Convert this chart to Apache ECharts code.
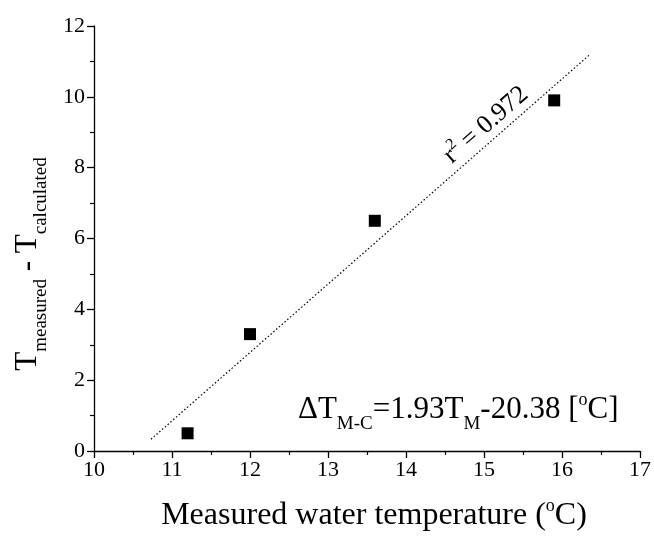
<!DOCTYPE html>
<html>
<head>
<meta charset="utf-8">
<script src="https://cdn.jsdelivr.net/npm/echarts@6/dist/echarts.min.js"></script>
<style>
  html, body { margin: 0; padding: 0; background: #fff; }
  #chart { width: 654px; height: 538px; }
</style>
</head>
<body>
<div id="chart"></div>
<script>
// measured points: water temperature vs (T measured - T calculated)
const waterTemp = [11.2, 12.0, 13.6, 15.9];
const tempDiff = [0.5, 3.3, 6.5, 9.9];
// end points of the fitted line
const fitX = [10.73, 16.35];
const fitY = [0.33, 11.18];

const FONT = 'Liberation Serif';

const myChart = echarts.init(document.getElementById('chart'));

const option = {
    animation: false,
    backgroundColor: '#fff',
    grid: { left: 94, right: 13, top: 26, bottom: 87 },
    xAxis: {
        type: 'value',
        min: 10, max: 17, interval: 1,
        axisLine: { lineStyle: { color: '#000', width: 1.3 } },
        axisTick: { length: 7, lineStyle: { color: '#000', width: 1.3 } },
        minorTick: { show: true, splitNumber: 2, length: 4, lineStyle: { color: '#000', width: 1.2 } },
        splitLine: { show: false },
        axisLabel: { color: '#000', fontFamily: FONT, fontSize: 22, margin: 8 }
    },
    yAxis: {
        type: 'value',
        min: 0, max: 12, interval: 2,
        axisLine: { show: true, lineStyle: { color: '#000', width: 1.3 } },
        axisTick: { show: true, length: 7, lineStyle: { color: '#000', width: 1.3 } },
        minorTick: { show: true, splitNumber: 2, length: 4, lineStyle: { color: '#000', width: 1.2 } },
        splitLine: { show: false },
        axisLabel: { color: '#000', fontFamily: FONT, fontSize: 22, margin: 9 }
    },
    series: [
        {
            name: 'fit',
            type: 'line',
            symbol: 'none',
            silent: true,
            lineStyle: { color: '#000', width: 1.2, type: [1.5, 2.2] },
            data: fitX.map((x, i) => [x, fitY[i]])
        },
        {
            name: 'measured',
            type: 'scatter',
            symbol: 'rect',
            symbolSize: 12,
            itemStyle: { color: '#000', opacity: 1 },
            data: waterTemp.map((x, i) => [x, tempDiff[i]])
        }
    ],
    graphic: [
        // x axis title
        {
            type: 'text',
            x: 374, y: 516,
            style: {
                text: '{t|Measured water temperature (}{sup|o}{t|C)}',
                align: 'center', verticalAlign: 'middle',
                rich: {
                    t: { fontFamily: FONT, fontSize: 32, fill: '#000' },
                    sup: { fontFamily: FONT, fontSize: 18, fill: '#000', padding: [0, 0, 20, 0] }
                }
            }
        },
        // y axis title
        {
            type: 'text',
            x: 28, y: 264,
            rotation: Math.PI / 2,
            style: {
                text: '{t|T}{s|measured}{t| - T}{s|calculated}',
                align: 'center', verticalAlign: 'middle',
                rich: {
                    t: { fontFamily: FONT, fontSize: 31, fill: '#000' },
                    s: { fontFamily: FONT, fontSize: 19, fill: '#000', padding: [26, 0, 0, 0] }
                }
            }
        },
        {
            type: 'text',
            x: 486, y: 125,
            rotation: 41.2 * Math.PI / 180,
            style: {
                text: '{t|r}{sup|2}{t| = 0.972}',
                align: 'center', verticalAlign: 'middle',
                rich: {
                    t: { fontFamily: FONT, fontSize: 26, fill: '#000' },
                    sup: { fontFamily: FONT, fontSize: 16, fill: '#000', padding: [0, 0, 16, 0] }
                }
            }
        },
        {
            type: 'text',
            x: 298, y: 410,
            style: {
                text: '{t|\u0394T}{s|M-C}{t|=1.93T}{s|M}{t|-20.38 [}{sup|o}{t|C]}',
                align: 'left', verticalAlign: 'middle',
                rich: {
                    t: { fontFamily: FONT, fontSize: 31, fill: '#000' },
                    s: { fontFamily: FONT, fontSize: 19, fill: '#000', padding: [28, 0, 0, 0] },
                    sup: { fontFamily: FONT, fontSize: 18, fill: '#000', padding: [0, 0, 20, 0] }
                }
            }
        }
    ]
};

myChart.setOption(option);
</script>
</body>
</html>
